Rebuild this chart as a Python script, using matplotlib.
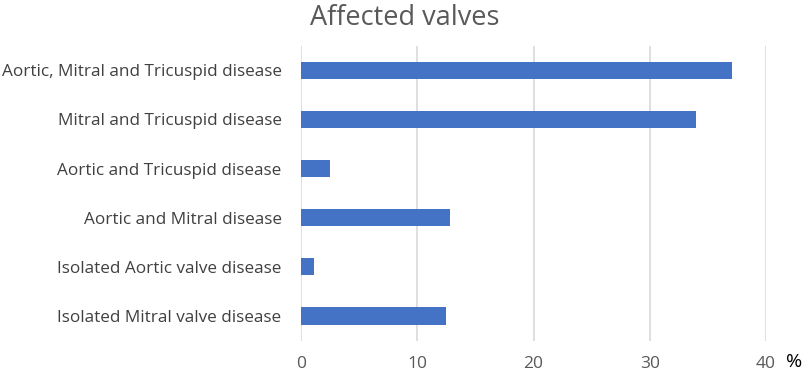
import matplotlib.pyplot as plt

categories = [
    "Isolated Mitral valve disease",
    "Isolated Aortic valve disease",
    "Aortic and Mitral disease",
    "Aortic and Tricuspid disease",
    "Mitral and Tricuspid disease",
    "Aortic, Mitral and Tricuspid disease",
]
values = [12.5, 1.1, 12.8, 2.5, 34.0, 37.1]
xticks = [0, 10, 20, 30, 40]

plt.rcParams['font.family'] = ['Open Sans', 'DejaVu Sans']

fig = plt.figure(figsize=(8.1, 3.78), dpi=100)
ax = fig.add_axes([0.3716, 0.0992, 0.9457 - 0.3716, 0.8788 - 0.0992])

ax.barh(range(len(categories)), values, height=0.35, color='#4472C4', zorder=3)
ax.set_ylim(-0.5, len(categories) - 0.5)
ax.set_xlim(0, 40)
ax.set_xticks(xticks)
ax.set_yticks(range(len(categories)))
ax.set_yticklabels(categories)
ax.grid(axis='x', color='#d9d9d9', lw=1.2, zorder=0)
for s in ax.spines.values():
    s.set_visible(False)
ax.tick_params(axis='y', length=0, pad=14, labelsize=12.3, labelcolor='#404040')
ax.tick_params(axis='x', length=0, pad=11, labelsize=12.5, labelcolor='#595959')

fig.text(0.5, 0.99, "Affected valves", ha='center', va='top', fontsize=19.5, color='#595959')
fig.text(0.981, 0.042, "%", ha='center', va='center', fontsize=14, color='black')

fig.savefig('out.png', dpi=100)
